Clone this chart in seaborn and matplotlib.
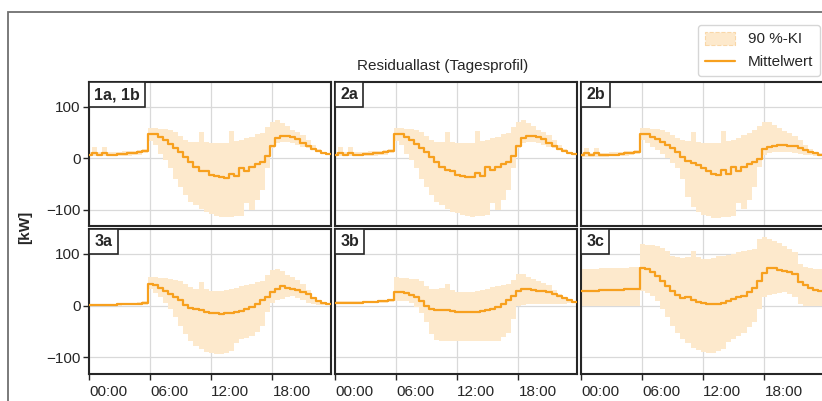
import numpy as np
import pandas as pd
import matplotlib
matplotlib.use("Agg")
import matplotlib.pyplot as plt
from matplotlib.patches import Patch, Rectangle
from matplotlib.lines import Line2D
import seaborn as sns

sns.set_theme(style="ticks")
plt.rcParams["font.family"] = ["Liberation Sans", "DejaVu Sans"]

# half-hourly profile values (kW), one value per 30 min slot 00:00 ... 23:30
panels = ["1a, 1b", "2a", "2b", "3a", "3b", "3c"]

mean_1ab = [7, 10, 7, 10, 7, 7, 8, 8, 9, 10, 11, 13,
            47, 46, 41, 35, 28, 20, 12, 3, -7, -18, -25, -26,
            -32, -35, -37, -38, -30, -35, -19, -25, -18, -12, -7, 4,
            24, 40, 43, 43, 41, 37, 30, 24, 17, 13, 10, 8]
upper_1ab = [12, 22, 12, 22, 12, 12, 12, 13, 13, 14, 15, 17,
             58, 58, 57, 56, 55, 50, 43, 35, 32, 31, 50, 31,
             30, 29, 29, 30, 52, 33, 36, 40, 42, 46, 49, 60,
             70, 75, 68, 62, 55, 50, 45, 35, 25, 18, 12, 9]
lower_1ab = [4, 4, 4, 4, 4, 4, 4, 5, 5, 6, 7, 9,
             33, 25, 8, -4, -20, -40, -56, -72, -85, -92, -98, -104,
             -108, -112, -114, -115, -114, -113, -112, -88, -100, -82, -62, -20,
             20, 30, 32, 31, 29, 26, 22, 19, 15, 12, 9, 6]

mean_2a = [7, 10, 7, 10, 7, 7, 8, 8, 9, 10, 11, 13,
           47, 46, 41, 35, 28, 20, 12, 3, -7, -18, -24, -26,
           -32, -34, -36, -37, -29, -34, -18, -24, -18, -12, -7, 4,
           24, 40, 43, 43, 41, 37, 30, 24, 17, 13, 10, 8]
upper_2a = [12, 22, 12, 22, 12, 12, 12, 13, 13, 14, 15, 17,
            58, 58, 57, 56, 55, 50, 43, 35, 32, 31, 50, 31,
            30, 29, 29, 30, 52, 33, 36, 40, 42, 46, 49, 60,
            70, 75, 68, 62, 55, 50, 45, 35, 25, 18, 12, 9]
lower_2a = [4, 4, 4, 4, 4, 4, 4, 5, 5, 6, 7, 9,
            33, 25, 8, -4, -20, -40, -56, -72, -85, -92, -98, -104,
            -107, -111, -113, -114, -113, -112, -111, -88, -100, -82, -62, -20,
            20, 30, 32, 31, 29, 26, 22, 19, 15, 12, 9, 6]

mean_2b = [6, 10, 6, 10, 6, 6, 7, 7, 8, 9, 10, 12,
           47, 46, 42, 37, 32, 26, 20, 12, 2, -5, -10, -14,
           -20, -25, -30, -32, -24, -30, -18, -25, -18, -12, -7, -1,
           17, 22, 24, 25, 25, 24, 23, 20, 16, 12, 9, 7]
upper_2b = [10, 20, 10, 20, 10, 10, 11, 11, 12, 13, 14, 16,
            58, 58, 57, 56, 54, 50, 45, 40, 35, 33, 50, 31,
            30, 29, 29, 30, 52, 33, 36, 40, 44, 48, 55, 62,
            70, 71, 64, 58, 52, 48, 43, 35, 25, 18, 12, 9]
lower_2b = [3, 3, 3, 3, 3, 3, 4, 4, 5, 5, 6, 8,
            35, 30, 22, 15, 8, 0, -10, -20, -40, -75, -95, -104,
            -110, -113, -116, -116, -115, -114, -112, -88, -98, -82, -56, -17,
            6, 10, 12, 12, 12, 11, 10, 8, 7, 6, 5, 4]

mean_3a = [2, 2, 2, 2, 2, 2, 3, 3, 3, 4, 4, 6,
           41, 39, 35, 29, 23, 17, 10, 2, -5, -6, -9, -12,
           -14, -15, -16, -15, -14, -12, -10, -7, -3, 3, 10, 17,
           27, 32, 37, 35, 32, 30, 27, 23, 14, 9, 5, 3]
upper_3a = [4, 4, 4, 4, 4, 4, 5, 5, 5, 6, 7, 8,
            55, 55, 54, 53, 52, 50, 47, 42, 36, 33, 45, 32,
            29, 28, 28, 30, 32, 35, 37, 40, 42, 45, 48, 60,
            69, 71, 66, 60, 55, 50, 42, 30, 16, 10, 6, 4]
lower_3a = [0, 0, 0, 0, 0, 0, 0, 1, 1, 1, 2, 2,
            33, 25, 16, 5, -6, -22, -39, -55, -68, -77, -84, -89,
            -92, -93, -93, -91, -87, -72, -65, -62, -58, -50, -39, -13,
            6, 10, 13, 16, 19, 15, 10, 6, 3, 2, 1, 1]

mean_3b = [6, 6, 6, 6, 6, 6, 7, 7, 7, 8, 8, 10,
           26, 26, 25, 21, 16, 8, 0, -6, -9, -8, -8, -10,
           -12, -13, -13, -13, -12, -11, -9, -6, -3, 3, 10, 18,
           28, 32, 32, 31, 29, 28, 26, 22, 18, 14, 10, 7]
upper_3b = [8, 8, 8, 8, 8, 8, 9, 9, 9, 10, 10, 12,
            55, 54, 53, 52, 51, 48, 37, 33, 32, 35, 42, 30,
            27, 26, 26, 27, 28, 30, 33, 36, 38, 40, 42, 50,
            62, 61, 56, 52, 48, 44, 39, 31, 23, 17, 12, 9]
lower_3b = [5, 5, 5, 5, 5, 5, 5, 5, 6, 6, 6, 7,
            8, 8, 8, 6, -3, -15, -32, -55, -66, -68, -68, -68,
            -68, -68, -68, -68, -68, -68, -68, -68, -68, -61, -52, -26,
            0, 2, 3, 3, 3, 3, 3, 3, 4, 4, 5, 5]

mean_3c = [29, 29, 29, 29, 30, 30, 30, 31, 31, 32, 32, 33,
           72, 70, 65, 57, 48, 38, 29, 20, 14, 16, 10, 7,
           5, 4, 3, 4, 6, 9, 13, 16, 19, 26, 35, 48,
           63, 72, 72, 68, 67, 64, 61, 45, 39, 34, 31, 28]
upper_3c = [71, 71, 71, 71, 72, 72, 72, 72, 73, 73, 74, 75,
            119, 118, 117, 116, 112, 106, 96, 93, 92, 94, 106, 94,
            90, 90, 92, 95, 96, 98, 100, 104, 106, 108, 110, 128,
            132, 129, 124, 120, 116, 110, 103, 81, 74, 72, 71, 70]
lower_3c = [0, 0, 0, 0, 0, 0, 0, 0, 0, 0, 0, 0,
            29, 25, 19, 8, -6, -22, -39, -52, -65, -73, -81, -86,
            -90, -92, -91, -88, -84, -70, -65, -58, -52, -42, -32, -6,
            16, 20, 23, 25, 26, 22, 16, 3, 0, 0, 0, 0]

means = [mean_1ab, mean_2a, mean_2b, mean_3a, mean_3b, mean_3c]
uppers = [upper_1ab, upper_2a, upper_2b, upper_3a, upper_3b, upper_3c]
lowers = [lower_1ab, lower_2a, lower_2b, lower_3a, lower_3b, lower_3c]

ORANGE = "#f7a01e"
FILL = "#fde9cc"
W, H = 822, 401

fig = plt.figure(figsize=(W / 100, H / 100), dpi=100)

# outer frame of the (cropped) figure
fig.patches.append(Rectangle((8 / W, -0.2), 1.2, 1 - 12 / H + 0.2, transform=fig.transFigure,
                             fill=False, ec="#707070", lw=1.3, zorder=0))

col_x = [89, 335, 581]
row_y = [(82, 226), (229, 374)]
hours = np.append(np.arange(48) * 0.5, 24.0)

for i, name in enumerate(panels):
    r, c = divmod(i, 3)
    top, bot = row_y[r]
    ax = fig.add_axes([col_x[c] / W, 1 - bot / H, 242 / W, (bot - top) / H])
    df = pd.DataFrame({"h": hours,
                       "mean": means[i] + [means[i][-1]],
                       "lo": lowers[i] + [lowers[i][-1]],
                       "hi": uppers[i] + [uppers[i][-1]]})
    ax.fill_between(df["h"], df["lo"], df["hi"], step="mid", color=FILL, lw=0, zorder=1)
    sns.lineplot(data=df, x="h", y="mean", ax=ax, color=ORANGE, lw=1.6,
                 drawstyle="steps-mid", zorder=3)
    ax.set_xlim(0, 23.75)
    ax.set_ylim(-132, 148)
    ax.set_xticks([0, 6, 12, 18])
    ax.set_yticks([-100, 0, 100])
    ax.grid(True, color="#d9d9d9", lw=0.9, zorder=0)
    ax.set_axisbelow(True)
    for s in ax.spines.values():
        s.set_color("#262626")
        s.set_linewidth(1.5)
    ax.set_xlabel("")
    ax.set_ylabel("")
    ax.tick_params(labelsize=11, length=4, width=1, color="#262626", pad=2)
    if r == 1:
        ax.set_xticklabels(["00:00", "06:00", "12:00", "18:00"], ha="left")
        ax.tick_params(axis="x", pad=4)
    else:
        ax.tick_params(axis="x", length=0, labelbottom=False)
    if c != 0:
        ax.tick_params(axis="y", length=0, labelleft=False)
    ax.text(0.022, 0.965, name, transform=ax.transAxes, ha="left", va="top",
            fontsize=11.5, fontweight="bold", zorder=5,
            bbox=dict(boxstyle="square,pad=0.33", fc="white", ec="#262626", lw=1.2))

fig.text(443 / W, 1 - 66 / H, "Residuallast (Tagesprofil)", ha="center", va="center", fontsize=11)
fig.text(25 / W, 1 - 227 / H, "[kW]", rotation=90, ha="center", va="center",
         fontsize=11, fontweight="bold")

handles = [Patch(facecolor=FILL, edgecolor="#f9d7a8", linestyle="--", lw=0.8),
           Line2D([], [], color=ORANGE, lw=1.6)]
fig.legend(handles, ["90 %-KI", "Mittelwert"], loc="upper left",
           bbox_to_anchor=(698 / W, 1 - 25 / H), borderaxespad=0, fontsize=11,
           frameon=True, edgecolor="#cccccc", fancybox=True, borderpad=0.45,
           labelspacing=0.55, handlelength=2.0, handleheight=0.9, handletextpad=0.8)

fig.savefig("out.png", dpi=100)
